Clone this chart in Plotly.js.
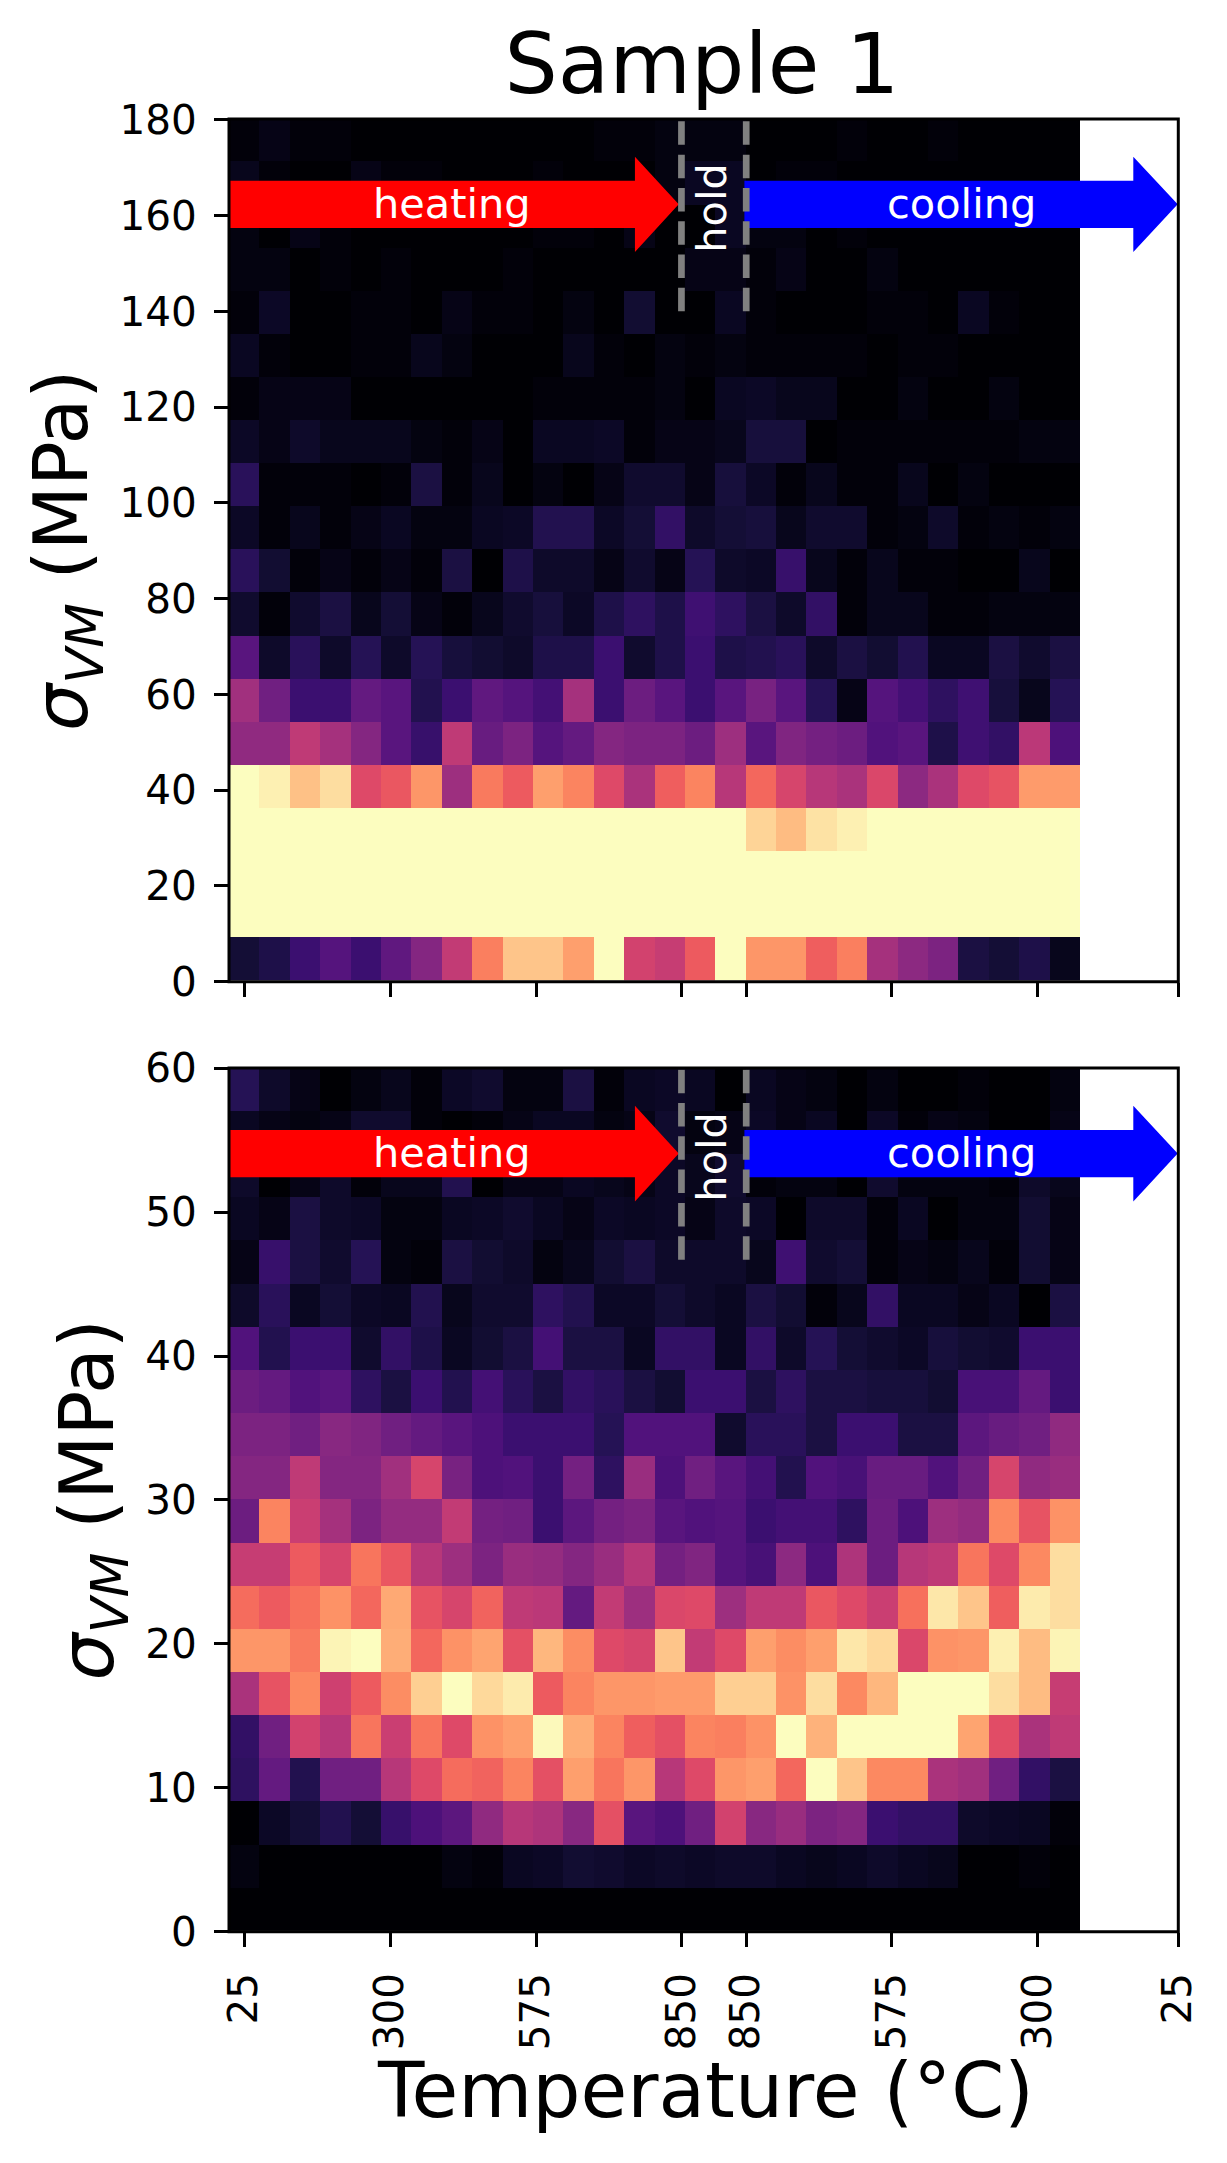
<!DOCTYPE html>
<html><head><meta charset="utf-8">
<script src="https://cdn.plot.ly/plotly-3.0.1.min.js"></script>
<style>html,body{margin:0;padding:0;background:#fff}#g{width:1227px;height:2163px}</style>
</head><body><div id="g"></div>
<script>
// Panel values (colour level 0..1), bottom row first, 28 columns each
const top_values = [
[.10,.13,.20,.26,.20,.29,.38,.53,.73,.88,.88,.80,1,.57,.54,.65,1,.78,.78,.66,.73,.46,.40,.36,.12,.10,.13,.04],
[1,1,1,1,1,1,1,1,1,1,1,1,1,1,1,1,1,1,1,1,1,1,1,1,1,1,1,1],
[1,1,1,1,1,1,1,1,1,1,1,1,1,1,1,1,1,1,1,1,1,1,1,1,1,1,1,1],
[1,1,1,1,1,1,1,1,1,1,1,1,1,1,1,1,1,.91,.86,.94,.97,1,1,1,1,1,1,1],
[1,.97,.87,.93,.60,.64,.78,.44,.72,.65,.80,.74,.60,.47,.66,.74,.50,.68,.58,.50,.47,.59,.40,.47,.60,.63,.79,.79],
[.41,.41,.52,.46,.38,.27,.19,.52,.31,.36,.26,.30,.38,.36,.36,.32,.44,.27,.37,.34,.32,.25,.27,.13,.21,.18,.51,.24],
[.45,.33,.20,.20,.30,.27,.14,.20,.29,.26,.22,.46,.20,.32,.27,.20,.27,.35,.27,.15,.03,.26,.22,.17,.21,.11,.04,.15],
[.27,.07,.16,.07,.15,.07,.15,.11,.09,.07,.13,.13,.20,.08,.13,.20,.13,.14,.16,.07,.12,.09,.14,.05,.05,.12,.08,.12],
[.08,.01,.08,.12,.04,.10,.03,.01,.04,.08,.11,.06,.13,.17,.13,.21,.17,.12,.07,.18,.01,.04,.04,.01,.01,.02,.02,.02],
[.16,.09,.01,.03,.01,.03,.01,.12,0,.13,.07,.07,.03,.08,.03,.15,.07,.06,.19,.04,.01,.04,.01,.01,0,0,.04,0],
[.06,.01,.04,.01,.03,.05,.02,.02,.05,.06,.14,.14,.06,.10,.18,.07,.10,.11,.04,.08,.08,.01,.02,.07,.01,.02,.01,.02],
[.16,.01,.01,.01,0,.01,.12,.01,.04,0,.02,0,.03,.08,.08,.03,.11,.06,.01,.04,.01,.01,.04,0,.02,0,0,0],
[.06,.03,.07,.04,.04,.04,.02,.01,.03,0,.05,.05,.06,.01,.03,.03,.04,.11,.11,0,.01,.01,.01,.01,.01,.01,.02,.02],
[.01,.03,.03,.03,0,0,0,0,0,0,.01,.01,.01,.01,.02,0,.05,.06,.04,.04,0,0,.02,0,0,.02,0,0],
[.05,.01,0,0,.01,.01,.04,.02,0,0,0,.04,.01,0,.02,.01,.02,.01,.01,.01,.01,0,.01,.01,0,0,0,0],
[.01,.06,0,0,.01,.01,0,.03,.01,.01,0,.02,0,.09,0,0,.05,.01,0,0,0,.01,.01,0,.05,.01,0,0],
[.02,.02,0,.01,0,.01,0,0,0,.01,0,0,0,0,0,.03,.03,.01,.03,0,0,.02,0,0,0,0,0,0],
[.02,0,.03,.01,0,0,0,0,0,0,.01,.01,0,.03,0,0,.05,.02,.02,0,.01,0,0,0,0,0,0,0],
[.04,.01,0,0,.03,.01,.01,0,0,0,.01,0,0,0,.02,.05,.05,0,.01,.01,0,0,0,0,0,0,0,0],
[.01,.03,.01,.01,0,0,0,0,0,0,0,0,.01,.01,.02,.02,.02,0,0,0,.01,0,0,.01,0,0,0,0]
];
const bottom_values = [
[0,0,0,0,0,0,0,0,0,0,0,0,0,0,0,0,0,0,0,0,0,0,0,0,0,0,0,0],
[.02,0,0,0,0,0,0,.02,.01,.05,.06,.09,.08,.06,.07,.06,.07,.07,.05,.04,.05,.07,.05,.04,0,0,.01,0],
[0,.06,.10,.14,.10,.19,.24,.28,.41,.50,.48,.39,.62,.27,.24,.33,.57,.39,.43,.36,.38,.20,.18,.18,.07,.06,.05,.01],
[.17,.30,.14,.33,.33,.50,.60,.69,.67,.74,.62,.80,.71,.78,.50,.60,.78,.80,.68,1,.88,.75,.75,.47,.45,.33,.18,.12],
[.18,.33,.57,.50,.71,.55,.71,.60,.77,.80,.99,.83,.74,.66,.62,.74,.73,.77,1,.84,1,1,1,1,.81,.61,.47,.52],
[.47,.63,.75,.56,.65,.76,.90,1,.92,.96,.65,.74,.78,.78,.79,.79,.90,.90,.77,.93,.75,.85,1,1,1,.93,.86,.54],
[.78,.78,.72,.98,1,.83,.68,.77,.81,.62,.85,.76,.60,.58,.88,.53,.60,.80,.76,.80,.95,.92,.59,.77,.78,.97,.86,.98],
[.69,.65,.70,.77,.68,.82,.63,.58,.67,.52,.51,.30,.53,.44,.59,.60,.44,.52,.52,.64,.60,.55,.70,.95,.88,.66,.96,.93],
[.54,.54,.65,.58,.71,.64,.50,.44,.36,.43,.42,.38,.43,.50,.34,.37,.26,.23,.40,.24,.48,.32,.50,.52,.71,.60,.75,.93],
[.32,.74,.55,.46,.36,.42,.42,.53,.34,.33,.20,.28,.34,.36,.27,.25,.26,.20,.22,.22,.17,.32,.24,.44,.42,.75,.63,.77],
[.38,.38,.52,.38,.38,.45,.58,.35,.24,.25,.20,.34,.17,.43,.24,.33,.27,.22,.14,.25,.23,.31,.31,.25,.33,.58,.41,.43],
[.36,.36,.33,.39,.37,.33,.30,.27,.24,.20,.20,.20,.15,.25,.25,.25,.08,.16,.16,.12,.20,.20,.12,.12,.28,.31,.33,.41],
[.32,.30,.25,.27,.17,.12,.20,.14,.22,.16,.12,.18,.16,.12,.09,.20,.20,.12,.17,.12,.12,.11,.11,.09,.23,.23,.30,.20],
[.25,.14,.20,.20,.08,.18,.13,.05,.09,.12,.22,.12,.12,.05,.18,.18,.05,.18,.07,.15,.10,.08,.06,.11,.09,.08,.20,.20],
[.07,.16,.05,.10,.06,.05,.14,.04,.08,.08,.17,.14,.06,.06,.10,.07,.05,.12,.09,.01,.04,.18,.05,.05,.03,.05,0,.12],
[.03,.19,.12,.08,.15,.02,.01,.12,.09,.07,.02,.04,.09,.12,.07,.07,.07,.04,.21,.08,.10,.01,.03,.02,.04,.01,.09,.03],
[.05,.03,.12,.07,.06,.02,.02,.05,.06,.08,.05,.03,.06,.05,.06,.03,.07,.06,0,.07,.07,.01,.05,0,.02,.02,.09,.03],
[.07,0,.03,.07,.01,.04,.04,.14,0,.03,.03,.05,.04,.03,.06,.04,.08,.01,.02,.02,0,.08,.02,.02,.02,.01,.07,.04],
[.05,.03,.02,.03,.08,.08,.01,0,.01,.03,.05,.05,.02,.03,.08,.02,.03,.06,.03,.05,0,.06,.01,.03,.02,0,0,.03],
[.15,.07,.03,0,.02,.04,.01,.06,.08,.02,.02,.12,.01,.05,.06,.05,0,.05,.03,.02,0,.02,0,0,.01,0,0,.02]
];
const column_centres = [.5,1.5,2.5,3.5,4.5,5.5,6.5,7.5,8.5,9.5,10.5,11.5,12.5,13.5,14.5,15.5,16.5,17.5,18.5,19.5,20.5,21.5,22.5,23.5,24.5,25.5,26.5,27.5];
const top_rows = [4.8,13.8,22.8,31.8,40.8,49.8,58.8,67.8,76.8,85.8,94.8,103.8,112.8,121.8,130.8,139.8,148.8,157.8,166.8,175.8];
const bottom_rows = [1.53,4.53,7.53,10.53,13.53,16.53,19.53,22.53,25.53,28.53,31.53,34.53,37.53,40.53,43.53,46.53,49.53,52.53,55.53,58.53];
const temp_ticks = [.5,5.3,10.1,14.88,17.01,21.8,26.6,31.22];
const temp_labels = ['25','300','575','850','850','575','300','25'];
const top_ticks = [0,20,40,60,80,100,120,140,160,180];
const bottom_ticks = [0,10,20,30,40,50,60];

const magma = [[0,'#000004'],[.05,'#0a0722'],[.1,'#140e36'],[.15,'#251255'],[.2,'#3b0f70'],[.25,'#51127c'],[.3,'#641a80'],[.35,'#782281'],[.4,'#8c2981'],[.45,'#a1307e'],[.5,'#b73779'],[.55,'#ca3e72'],[.6,'#de4968'],[.65,'#ed5a5f'],[.7,'#f7705c'],[.75,'#fc8961'],[.8,'#fe9f6d'],[.85,'#feb77e'],[.9,'#fecf92'],[.95,'#fde7a9'],[1,'#fcfdbf']];

const W=1227,H=2163, L=229, R=1178.3;
const P1={top:119,bot:981.7}, P2={top:1068,bot:1931.7};
const FONT='"DejaVu Sans"';
const XMAX=31.22;

function hm(z,y,xa,ya){return {type:'heatmap',z:z,x:column_centres,y:y,xaxis:xa,yaxis:ya,zmin:0,zmax:1,colorscale:magma,showscale:false,hoverinfo:'skip'};}
const data=[hm(top_values,top_rows,'x','y'),hm(bottom_values,bottom_rows,'x2','y2')];

function arrowPath(x0,xb,xt,yc,hb,hh){
  return `M${x0},${yc-hb} L${xb},${yc-hb} L${xb},${yc-hh} L${xt},${yc} L${xb},${yc+hh} L${xb},${yc+hb} L${x0},${yc+hb} Z`;
}
const shapes=[],annotations=[];
function panel(xr,yr,yc,hb,hh,dashEnd,ytop,ytxt,yhold){
  shapes.push({type:'path',xref:xr,yref:yr,path:arrowPath(0,13.35,14.79,yc,hb,hh),fillcolor:'#ff0000',line:{width:0},layer:'above'});
  shapes.push({type:'path',xref:xr,yref:yr,path:arrowPath(16.95,29.74,31.2,yc,hb,hh),fillcolor:'#0000ff',line:{width:0},layer:'above'});
  [14.88,17.01].forEach(x=>shapes.push({type:'line',xref:xr,yref:yr,x0:x,x1:x,y0:dashEnd,y1:ytop,line:{color:'#808080',width:6.7,dash:'23.5px,9.8px'},layer:'above'}));
  shapes.push({type:'rect',xref:xr+' domain',yref:yr+' domain',x0:0,x1:1,y0:0,y1:1,line:{color:'#000',width:3},fillcolor:'rgba(0,0,0,0)',layer:'above'});
  const f={family:FONT,size:41.5,color:'#fff'};
  annotations.push({xref:xr,yref:yr,x:7.32,y:ytxt,text:'heating',showarrow:false,font:f,xanchor:'center',yanchor:'middle'});
  annotations.push({xref:xr,yref:yr,x:24.09,y:ytxt,text:'cooling',showarrow:false,font:f,xanchor:'center',yanchor:'middle'});
  annotations.push({xref:xr,yref:yr,x:15.88,y:yhold,text:'hold',showarrow:false,font:f,textangle:-90,xanchor:'center',yanchor:'middle'});
}
panel('x','y',162.35,4.93,9.95,140,180.17,162.6,161.6);
panel('x2','y2',54.07,1.65,3.32,46.7,60.02,54.15,53.85);
annotations.push({xref:'paper',yref:'paper',x:705/W,y:1-2090/H,text:'Temperature (°C)',showarrow:false,font:{family:FONT,size:76,color:'#000'},xanchor:'center',yanchor:'middle'});

function yax(dom,range,ticks,anchor){return {domain:dom,range:range,anchor:anchor,tickmode:'array',tickvals:ticks,ticktext:ticks.map(String),ticks:'outside',ticklen:14,tickwidth:3,tickcolor:'#000',showgrid:false,zeroline:false,showline:false,tickfont:{family:FONT,size:40.5,color:'#000'},ticklabelstandoff:9,
  title:{text:'<i>σ<sub>VM</sub></i> (MPa)',font:{family:FONT,size:74.5,color:'#000'},standoff:7}};}
function xax(dom,anchor,labels){return {domain:dom,range:[0,XMAX],anchor:anchor,tickmode:'array',tickvals:temp_ticks,ticktext:temp_labels,tickangle:-90,ticks:'outside',ticklen:14,tickwidth:3,tickcolor:'#000',showticklabels:labels,showgrid:false,zeroline:false,showline:false,tickfont:{family:FONT,size:40.5,color:'#000'},ticklabelstandoff:10};}

const xd=[L/W,R/W];
const layout={width:W,height:H,margin:{l:0,r:0,t:0,b:0},paper_bgcolor:'#fff',plot_bgcolor:'#fff',font:{family:FONT},
  title:{text:'Sample 1',font:{family:FONT,size:84,color:'#000'},x:702/W,xanchor:'center',xref:'paper',y:1-64/H,yanchor:'middle',yref:'paper'},
  xaxis:xax(xd,'y',false),
  yaxis:yax([1-P1.bot/H,1-P1.top/H],[0,180.17],top_ticks,'x'),
  xaxis2:xax(xd,'y2',true),
  yaxis2:yax([1-P2.bot/H,1-P2.top/H],[0,60.02],bottom_ticks,'x2'),
  shapes:shapes,annotations:annotations,showlegend:false};
Plotly.newPlot('g',data,layout,{displayModeBar:false,responsive:false});
</script></body></html>
